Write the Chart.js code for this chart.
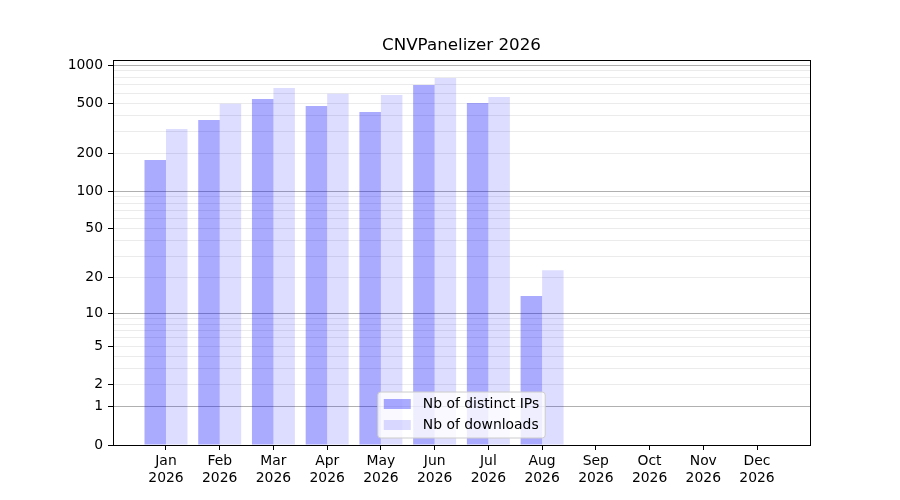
<!DOCTYPE html>
<html>
<head>
<meta charset="utf-8">
<script src="https://cdn.jsdelivr.net/npm/chart.js@4.4.1/dist/chart.umd.min.js"></script>
<style>
  html, body { margin: 0; padding: 0; background: #fff; }
  #wrap { width: 900px; height: 500px; }
</style>
</head>
<body>
<div id="wrap"><canvas id="downloads-chart"></canvas></div>
<script>
const months = ['Jan', 'Feb', 'Mar', 'Apr', 'May', 'Jun', 'Jul', 'Aug', 'Sep', 'Oct', 'Nov', 'Dec'];
const year = '2026';
const distinctIPs = [177, 368, 539, 475, 425, 695, 501, 14, 0, 0, 0, 0];
const downloads = [312, 495, 659, 594, 580, 790, 559, 23, 0, 0, 0, 0];
const yLabelled = [0, 1, 2, 5, 10, 20, 50, 100, 200, 500, 1000];
const yMinor = [3, 4, 6, 7, 8, 9, 30, 40, 60, 70, 80, 90, 300, 400, 600, 700, 800, 900];
const yDecades = [1, 10, 100, 1000];

// y axis on log10(1 + v), like the original plot
class Log1pScale extends Chart.LinearScale {
  buildTicks() {
    return yLabelled.concat(yMinor).sort((a, b) => a - b).map(v => ({ value: v }));
  }
  configure() {
    super.configure();
    this._logTop = Math.log10(1 + this.max);
  }
  getPixelForValue(value) {
    return this.getPixelForDecimal(Math.log10(1 + value) / this._logTop);
  }
  getValueForPixel(pixel) {
    return Math.pow(10, this.getDecimalForPixel(pixel) * this._logTop) - 1;
  }
}
Log1pScale.id = 'log1p';
Chart.register(Log1pScale);

Chart.defaults.font.family = "'DejaVu Sans', sans-serif";
Chart.defaults.font.size = 13.9;
Chart.defaults.color = '#000';

const frame = {
  id: 'frame',
  afterDatasetsDraw(chart) {
    const a = chart.chartArea, c = chart.ctx;
    c.save();
    c.strokeStyle = '#000';
    c.lineWidth = 1;
    c.strokeRect(Math.round(a.left) + 0.5, Math.round(a.top) + 0.5,
      Math.round(a.right - a.left), Math.round(a.bottom - a.top));
    c.restore();
  }
};

const innerLegend = {
  id: 'innerLegend',
  afterDraw(chart) {
    const a = chart.chartArea, c = chart.ctx;
    const sets = chart.data.datasets;
    c.save();
    c.font = "13.9px 'DejaVu Sans', sans-serif";
    const textW = Math.max(...sets.map(d => c.measureText(d.label).width));
    const pad = 6, patchW = 27, patchH = 10, gap = 12, rowH = 21;
    const w = pad + patchW + gap + textW + pad;
    const h = 46;
    const x = (a.left + a.right) / 2 - w / 2;
    const y = a.bottom - 7 - h;
    c.beginPath();
    c.roundRect(x, y, w, h, 3);
    c.fillStyle = 'rgba(255,255,255,0.8)';
    c.fill();
    c.strokeStyle = '#cccccc';
    c.lineWidth = 1;
    c.stroke();
    sets.forEach((d, i) => {
      const cy = y + 12 + rowH * i;
      c.fillStyle = d.backgroundColor;
      c.fillRect(x + pad, cy - patchH / 2, patchW, patchH);
      c.fillStyle = '#000';
      c.textBaseline = 'middle';
      c.fillText(d.label, x + pad + patchW + gap, cy);
    });
    c.restore();
  }
};

new Chart(document.getElementById('downloads-chart'), {
  type: 'bar',
  data: {
    datasets: [
      {
        label: 'Nb of distinct IPs',
        data: months.map((m, i) => ({ x: i, y: distinctIPs[i] })),
        backgroundColor: 'rgba(0,0,255,0.333)'
      },
      {
        label: 'Nb of downloads',
        data: months.map((m, i) => ({ x: i, y: downloads[i] })),
        backgroundColor: 'rgba(0,0,255,0.133)'
      }
    ]
  },
  options: {
    responsive: true,
    maintainAspectRatio: false,
    animation: false,
    layout: { padding: { left: 0, right: 90, top: 0, bottom: 0 } },
    categoryPercentage: 0.8,
    barPercentage: 1.0,
    plugins: {
      legend: { display: false },
      tooltip: { enabled: false },
      title: {
        display: true,
        fullSize: false,
        text: 'CNVPanelizer ' + year,
        font: { size: 16.7, weight: 'normal' },
        color: '#000',
        padding: { top: 36, bottom: 4 }
      }
    },
    scales: {
      x: {
        type: 'linear',
        min: -0.986,
        max: 11.986,
        offset: false,
        afterBuildTicks: s => { s.ticks = months.map((m, i) => ({ value: i })); },
        afterFit: s => { s.height = 55; },
        ticks: {
          autoSkip: false,
          maxRotation: 0,
          padding: 3,
          callback: v => [months[v], year]
        },
        grid: { offset: false, drawOnChartArea: false, tickLength: 5, color: '#000' },
        border: { color: '#000', width: 1 }
      },
      y: {
        type: 'log1p',
        min: 0,
        max: 1095,
        afterFit: s => { s.width = 113; },
        ticks: {
          autoSkip: false,
          padding: 5,
          callback: v => yLabelled.includes(v) ? String(v) : ''
        },
        grid: {
          tickLength: 5,
          lineWidth: 1,
          color: c => yDecades.includes(c.tick.value) ? '#b0b0b0'
            : (c.tick.value === 0 ? 'rgba(0,0,0,0)' : '#ebebeb'),
          tickColor: c => yLabelled.includes(c.tick.value) ? '#000' : 'rgba(0,0,0,0)'
        },
        border: { color: '#000', width: 1 }
      }
    }
  },
  plugins: [frame, innerLegend]
});
</script>
</body>
</html>
